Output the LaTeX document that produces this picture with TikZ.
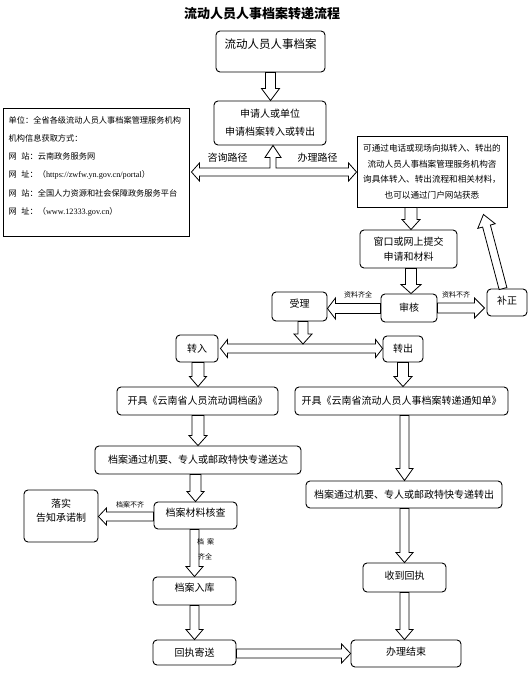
\documentclass[tikz,border=0pt]{standalone}
\usepackage{fontspec}
\setmainfont{Liberation Serif}
\newfontfamily\cjk{Noto Sans CJK SC}
\usetikzlibrary{calc}
\newcommand\barrow[5]{%
  \coordinate (ba-s) at #1;
  \coordinate (ba-t) at #2;
  \coordinate (ba-h) at ($(ba-t)!#5pt!(ba-s)$);
  \draw[blockarrow] ($(ba-s)!#3pt!90:(ba-t)$) -- ($(ba-h)!#3pt!90:(ba-t)$) -- ($(ba-h)!#4pt!90:(ba-t)$) -- (ba-t) -- ($(ba-h)!#4pt!-90:(ba-t)$) -- ($(ba-h)!#3pt!-90:(ba-t)$) -- ($(ba-s)!#3pt!-90:(ba-t)$) -- cycle;}
\newcommand\dbarrow[5]{%
  \coordinate (da-s) at #1;
  \coordinate (da-t) at #2;
  \coordinate (da-h1) at ($(da-s)!#5pt!(da-t)$);
  \coordinate (da-h2) at ($(da-t)!#5pt!(da-s)$);
  \draw[blockarrow] (da-s) -- ($(da-h1)!#4pt!90:(da-t)$) -- ($(da-h1)!#3pt!90:(da-t)$) -- ($(da-h2)!#3pt!-90:(da-s)$) -- ($(da-h2)!#4pt!-90:(da-s)$) -- (da-t) -- ($(da-h2)!#4pt!90:(da-s)$) -- ($(da-h2)!#3pt!90:(da-s)$) -- ($(da-h1)!#3pt!-90:(da-t)$) -- ($(da-h1)!#4pt!-90:(da-t)$) -- cycle;}
\tikzset{
  box/.style={draw, rounded corners=4pt, line width=0.9pt, inner sep=0pt, align=center, font=\cjk\fontsize{10}{15}\selectfont},
  plain/.style={draw, line width=0.9pt, inner sep=0pt},
  blockarrow/.style={draw, fill=white, line width=0.8pt, line join=miter},
  lab/.style={font=\cjk\fontsize{10}{12}\selectfont, inner sep=0pt},
  tiny/.style={font=\cjk\fontsize{7}{8}\selectfont, inner sep=0pt},
}
\begin{document}
\begin{tikzpicture}[x=1pt, y=-1pt]
\useasboundingbox (0,0) rectangle (529,700);
\fill[white] (0,0) rectangle (529,700);

\node[font=\cjk\bfseries\fontsize{13}{15}\selectfont, inner sep=0pt] (title) at (262,14) {流动人员人事档案转递流程};

\node[box, minimum width=109pt, minimum height=41pt, font=\cjk\fontsize{11.5}{14}\selectfont, text height=8.7pt, text depth=14pt] (n1) at (270.5,51.5) {流动人员人事档案};
\node[box, minimum width=112pt, minimum height=44pt, font=\cjk\fontsize{10}{18}\selectfont] (n2) at (270,123) {申请人或单位\\申请档案转入或转出};

\node[plain, minimum width=186pt, minimum height=128pt] (info) at (96,172) {};
\node[anchor=north west, align=left, inner sep=0pt, font=\cjk\fontsize{8.2}{18.2}\selectfont] (infotext) at ($(info.north west)+(6,8.5)$) {单位：全省各级流动人员人事档案管理服务机构\\机构信息获取方式：\\网\hspace{4.5pt}站：云南政务服务网\\网\hspace{4.5pt}址：（{\rmfamily https://zwfw.yn.gov.cn/portal}）\\网\hspace{4.5pt}站：全国人力资源和社会保障政务服务平台\\网\hspace{4.5pt}址：（{\rmfamily www.12333.gov.cn}）};

\node[plain, minimum width=150pt, minimum height=71pt, align=center, font=\cjk\fontsize{8.6}{15.5}\selectfont] (rinfo) at (432,171.5) {可通过电话或现场向拟转入、转出的\\流动人员人事档案管理服务机构咨\\询具体转入、转出流程和相关材料，\\也可以通过门户网站获悉};

\node[box, minimum width=97pt, minimum height=38pt] (sub) at (408.5,249) {窗口或网上提交\\申请和材料};
\node[box, minimum width=56pt, minimum height=28pt] (sh) at (409,308) {审核};
\node[box, minimum width=55pt, minimum height=29pt, text height=7.6pt, text depth=5pt] (sl) at (299.5,306.5) {受理};
\node[box, minimum width=40pt, minimum height=27pt, text height=7.6pt, text depth=3pt] (bz) at (507,302.5) {补正};
\node[box, minimum width=42pt, minimum height=27pt] (zr) at (197,348.5) {转入};
\node[box, minimum width=40pt, minimum height=26pt] (zc) at (403,349) {转出};
\node[box, minimum width=161pt, minimum height=28pt] (kl) at (197.5,401) {开具《云南省人员流动调档函》};
\node[box, minimum width=213pt, minimum height=28pt] (kr) at (401.5,401) {开具《云南省流动人员人事档案转递通知单》};
\node[box, minimum width=206pt, minimum height=28pt] (sd) at (198,460) {档案通过机要、专人或邮政特快专递送达};
\node[box, minimum width=196pt, minimum height=27pt] (zcb) at (404,494.5) {档案通过机要、专人或邮政特快专递转出};
\node[box, minimum width=83pt, minimum height=27pt, text height=7.6pt, text depth=5pt] (hc) at (195.5,515.5) {档案材料核查};
\node[box, minimum width=74pt, minimum height=52pt] (ls) at (61,516) {};
\node[lab, align=center, font=\cjk\fontsize{10}{14}\selectfont] (lstext) at ($(ls.center)+(0,-5)$) {落实\\告知承诺制};
\node[box, minimum width=83pt, minimum height=28pt, text height=7.6pt, text depth=6pt] (rk) at (194.5,591) {档案入库};
\node[box, minimum width=83pt, minimum height=25pt] (hz) at (194.5,652.5) {回执寄送};
\node[box, minimum width=110pt, minimum height=27pt, text height=7.6pt, text depth=3pt] (js) at (406,653.5) {办理结束};
\node[box, minimum width=83pt, minimum height=29pt, text height=7.6pt, text depth=3pt] (sd2) at (404.5,577.5) {收到回执};

% arrows
\barrow{(n1.south)}{(n1.south |- n2.north)}{5}{9}{12}

\coordinate (TL) at ($(info.east)+(2,0)$);
\coordinate (TR) at (info.east -| rinfo.west);
\coordinate (TT) at ($(n2.south)+(3,0)$);
\coordinate (TB) at (TT |- TL);
\draw[blockarrow] (TL) -- ($(TL)+(8,-9)$) -- ($(TL)+(8,-4)$) -- ($(TB)+(-3,-4)$) -- ($(TT)+(-3,12)$) -- ($(TT)+(-8,12)$) -- (TT) -- ($(TT)+(8,12)$) -- ($(TT)+(3,12)$) -- ($(TB)+(3,-4)$) -- ($(TR)+(-8,-4)$) -- ($(TR)+(-8,-9)$) -- (TR) -- ($(TR)+(-8,9)$) -- ($(TR)+(-8,4)$) -- ($(TL)+(8,4)$) -- ($(TL)+(8,9)$) -- cycle;

\barrow{($(rinfo.south)+(-21,0)$)}{($(rinfo.south |- sub.north)+(-21,0)$)}{6}{9}{10}
\barrow{($(sub.south)+(2.5,0)$)}{($(sub.south |- sh.north)+(2.5,0)$)}{5.5}{10}{9}
\barrow{($(sh.west)+(0,0.5)$)}{($(sh.west -| sl.east)+(0,0.5)$)}{5}{10.5}{8}
\barrow{(sh.east)}{($(sh.east -| bz.west)+(-2,0)$)}{5}{10}{10}
\barrow{($(bz.north)+(-4,0)$)}{($(rinfo.south east)+(-24,7)$)}{4}{9}{12}

\coordinate (dl) at ($(zr.east)+(2,0)$);
\coordinate (dr) at (zr.east -| zc.west);
\dbarrow{(dl)}{(dr)}{4.5}{9}{7}
\coordinate (slx) at ($(sl.south)+(3.5,0)$);
\coordinate (dtop) at ($(dl)+(0,-4.5)$);
\barrow{(slx)}{(slx |- dtop)}{5}{9}{10}

\barrow{($(zr.south)+(1,0)$)}{($(zr.south |- kl.north)+(1,0)$)}{6}{8.5}{10}
\barrow{(zc.south)}{(zc.south |- kr.north)}{5.5}{9}{10}
\barrow{($(kl.south)+(0.5,0)$)}{($(kl.south |- sd.north)+(0.5,0)$)}{6}{9}{10}
\barrow{($(kr.south)+(3,0)$)}{($(kr.south |- zcb.north)+(3,0)$)}{4.5}{8.5}{12}
\barrow{($(sd.south)+(-2.5,0)$)}{($(sd.south |- hc.north)+(-2.5,0)$)}{5.5}{8.5}{10}
\barrow{($(hc.west)+(0,1)$)}{($(hc.west -| ls.east)+(0,1)$)}{4.5}{8.5}{8}
\barrow{($(hc.south)+(-1,0)$)}{($(hc.south |- rk.north)+(-1,0)$)}{4.5}{8.5}{10}
\barrow{(rk.south)}{(rk.south |- hz.north)}{4.5}{8.5}{10}
\barrow{($(hz.east)+(0,1)$)}{($(hz.east -| js.west)+(0,1)$)}{4.5}{9.5}{9}
\barrow{($(zcb.south)+(0.5,0)$)}{($(zcb.south |- sd2.north)+(0.5,0)$)}{4.5}{8.5}{10}
\barrow{(sd2.south)}{(sd2.south |- js.north)}{4.5}{8.5}{10}

% labels
\node[lab] (zx) at (227.5,158) {咨询路径};
\node[lab] (bl) at (317.5,158) {办理路径};
\node[tiny] (l1) at (358,295) {资料齐全};
\node[tiny] (l2) at (456,295) {资料不齐};
\node[tiny] (l3) at (130,505) {档案不齐};
\node[tiny] (l4) at (205.5,542) {档\hspace{3pt}案};
\node[tiny] (l5) at (205,557) {齐全};
\end{tikzpicture}
\end{document}
